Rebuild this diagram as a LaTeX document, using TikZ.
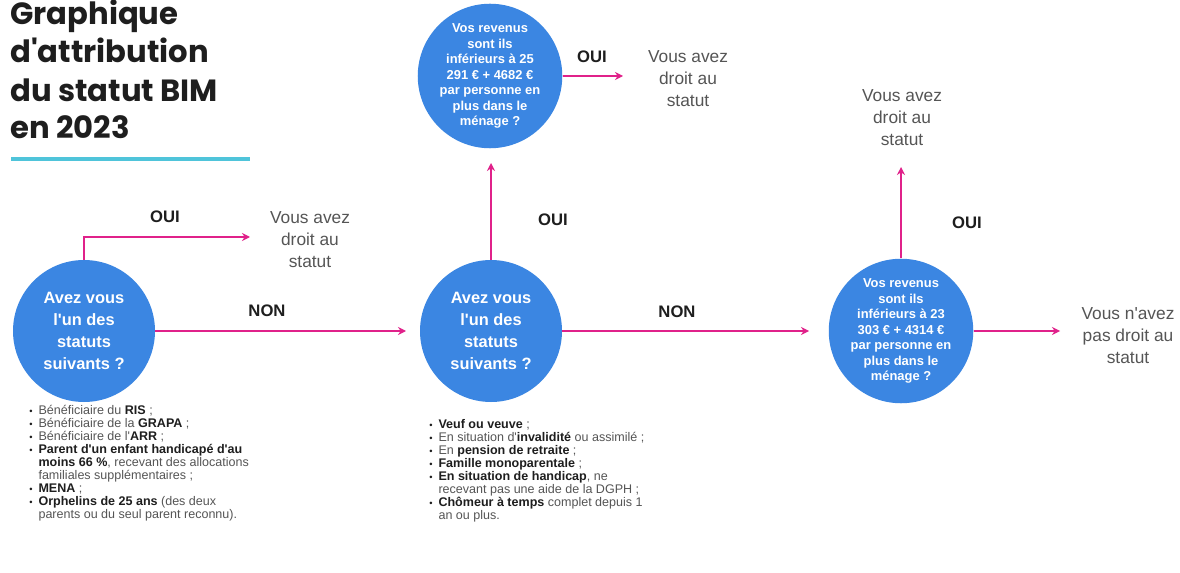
\documentclass[tikz,border=0pt]{standalone}
\usepackage{fontspec}
\setmainfont{Liberation Sans}
\newfontfamily\titlefont{Poppins}
\usetikzlibrary{arrows.meta}
\definecolor{cblue}{RGB}{59,134,226}
\definecolor{cmag}{RGB}{224,33,138}
\definecolor{ccyan}{RGB}{79,196,218}
\definecolor{ctxt}{RGB}{85,85,85}
\definecolor{cdark}{RGB}{30,30,30}
\newcommand\bb[1]{\textbf{\color{cdark}#1}}
\newcommand\bul{{\fontsize{7}{7}\selectfont\color{cdark}•}}
\newcommand\ap{\textquotesingle}
\begin{document}
\begin{tikzpicture}[x=0.75pt,y=-0.75pt,
  bigq/.style={circle, fill=cblue, minimum size=106.5pt, inner sep=0pt, text=white, align=center,
    font=\bfseries\fontsize{12.3}{16.5}\selectfont},
  smallq/.style={circle, fill=cblue, minimum size=108pt, inner sep=0pt, text=white, align=center,
    font=\bfseries\fontsize{9.7}{11.6}\selectfont},
  result/.style={align=center, text=ctxt, inner sep=0pt, font=\fontsize{13}{16.5}\selectfont},
  lbl/.style={text=cdark, font=\bfseries\fontsize{12.5}{14}\selectfont, inner sep=0pt},
  conn/.style={draw=cmag, line width=1.6pt, -{Stealth[length=6pt,width=6pt]}},
  ttl/.style={anchor=base west, inner sep=0pt, text=cdark, font=\titlefont\bfseries\fontsize{23}{27}\selectfont},
  lst/.style={anchor=north west, inner sep=0pt, text=ctxt, font=\fontsize{9.4}{9.75}\selectfont}
]
\useasboundingbox (0,0) rectangle (1180,573);
\fill[white] (0,0) rectangle (1180,573);

% title
\node[ttl] (t1) at (10,25) {Graphique};
\node[ttl] (t2) at (10,63) {d\ap attribution};
\node[ttl] (t3) at (10,102) {du statut BIM};
\node[ttl] (t4) at (10,139) {en 2023};
\draw[ccyan, line width=2.4pt] (11,159) -- (250,159);

% question circles
\node[bigq] (c1) at (84,331) {Avez vous\\l\ap un des\\statuts\\suivants ?};
\node[bigq] (c2) at (491,331) {Avez vous\\l\ap un des\\statuts\\suivants ?};
\node[smallq] (c3) at (490,76) {Vos revenus\\sont ils\\inférieurs à 25\\291 € + 4682 €\\par personne en\\plus dans le\\ménage ?};
\node[smallq] (c4) at (901,331) {Vos revenus\\sont ils\\inférieurs à 23\\303 € + 4314 €\\par personne en\\plus dans le\\ménage ?};

% results
\node[result] (r1) at (310,240) {Vous avez\\droit au\\statut};
\node[result] (r3) at (688,79) {Vous avez\\droit au\\statut};
\node[result] (r4) at (902,118) {Vous avez\\droit au\\statut};
\node[result] (r5) at (1128,336) {Vous n\ap avez\\pas droit au\\statut};

% arrow tips
\coordinate (a1) at (250,237);
\coordinate (a2) at (406,331);
\coordinate (a3) at (491,163);
\coordinate (a4) at (623,76);
\coordinate (a5) at (809,331);
\coordinate (a6) at (901,167);
\coordinate (a7) at (1060,331);

% connectors
\draw[conn] (c1.north) |- (a1);
\draw[conn] (c1.east) -- (a2);
\draw[conn] (c2.north) -- (a3);
\draw[conn] (c3.east) -- (a4);
\draw[conn] (c2.east) -- (a5);
\draw[conn] (c4.north) -- (a6);
\draw[conn] (c4.east) -- (a7);

% labels
\node[lbl] (l1) at (165,217) {OUI};
\node[lbl] (l2) at (267,311) {NON};
\node[lbl] (l3) at (553,220) {OUI};
\node[lbl] (l4) at (592,57) {OUI};
\node[lbl] (l5) at (677,312) {NON};
\node[lbl] (l6) at (967,223) {OUI};

% lists
\node[lst] (list1) at (29,405) {\begin{tabular}{@{}l@{\hspace{4.5pt}}l@{}}
\bul & Bénéficiaire du \bb{RIS} ;\\
\bul & Bénéficiaire de la \bb{GRAPA} ;\\
\bul & Bénéficiaire de l\ap\bb{ARR} ;\\
\bul & \bb{Parent d\ap un enfant handicapé d\ap au}\\
 & \bb{moins 66 \%}, recevant des allocations\\
 & familiales supplémentaires ;\\
\bul & \bb{MENA} ;\\
\bul & \bb{Orphelins de 25 ans} (des deux\\
 & parents ou du seul parent reconnu).
\end{tabular}};
\node[lst] (list2) at (429,419) {\begin{tabular}{@{}l@{\hspace{4.5pt}}l@{}}
\bul & \bb{Veuf ou veuve} ;\\
\bul & En situation d\ap\bb{invalidité} ou assimilé ;\\
\bul & En \bb{pension de retraite} ;\\
\bul & \bb{Famille monoparentale} ;\\
\bul & \bb{En situation de handicap}, ne\\
 & recevant pas une aide de la DGPH ;\\
\bul & \bb{Chômeur à temps} complet depuis 1\\
 & an ou plus.
\end{tabular}};
\end{tikzpicture}
\end{document}
